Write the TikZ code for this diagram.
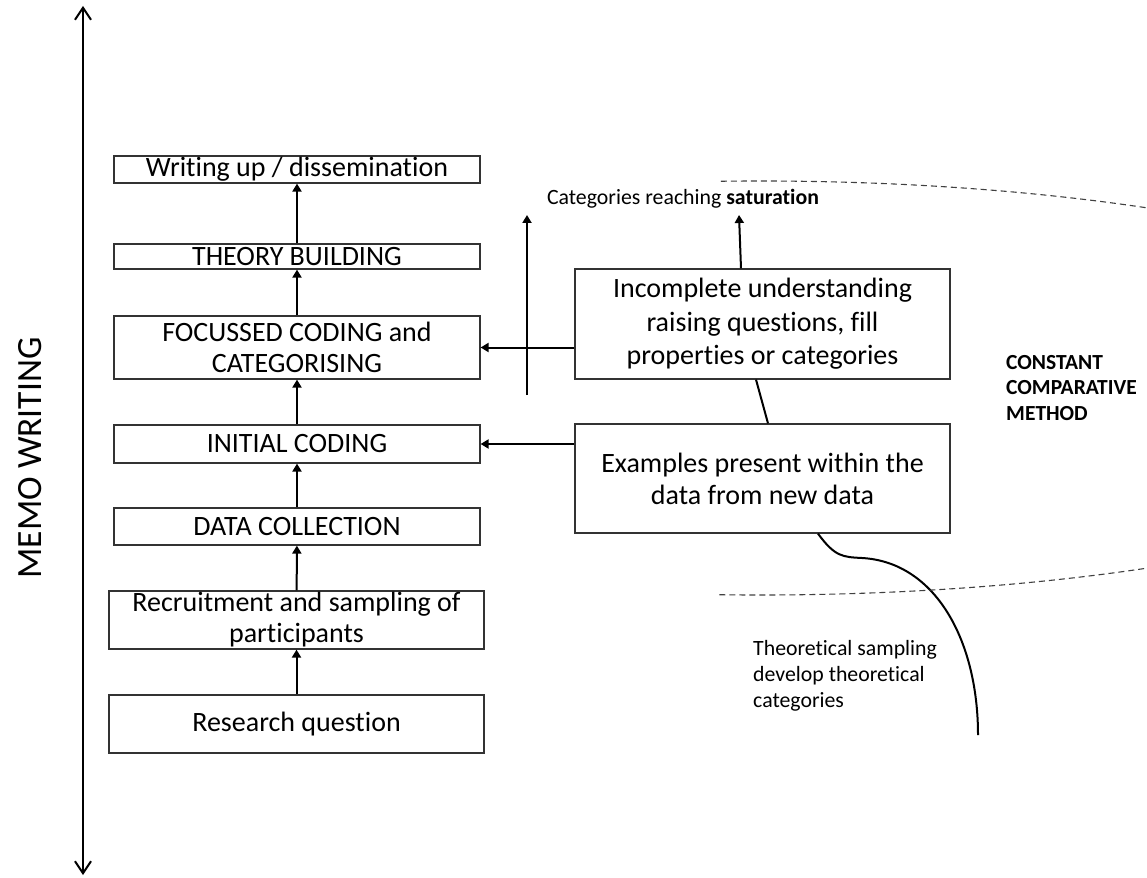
\documentclass[tikz,border=0pt]{standalone}
\usepackage{fontspec}
\setmainfont{Carlito}[Ligatures=NoCommon]
\usetikzlibrary{arrows.meta,calc}
\begin{document}
\begin{tikzpicture}[x=1pt,y=-1pt,
  stagebox/.style={draw=black!80,line width=1.2pt,inner sep=0pt,align=center,
    font=\fontsize{28}{31}\selectfont,minimum width=366pt},
  widebox/.style={stagebox,minimum width=375pt},
  arr/.style={line width=2pt,-{Triangle[length=8pt,width=9pt]}},
  link/.style={line width=2pt},
  smalltext/.style={font=\fontsize{21.8}{26}\selectfont,inner sep=0pt},
  boldtext/.style={font=\fontsize{21.5}{25.5}\selectfont\bfseries,inner sep=0pt,align=left},
  memo/.style={line width=2pt,{Straight Barb[length=12pt,width=16pt,line width=2pt]}-{Straight Barb[length=12pt,width=16pt,line width=2pt]}},
  boundary/.style={dashed,dash pattern=on 6pt off 4pt,line width=1.1pt,black!75}]
\useasboundingbox (0,0) rectangle (1147,877);

% stages of the process
\node[stagebox,minimum height=27pt] (write) at (297,169.5) {Writing up / dissemination};
\node[stagebox,minimum height=25pt] (theory) at (297,256.5) {THEORY BUILDING};
\node[stagebox,minimum height=63pt] (focus) at (297,347.5) {FOCUSSED CODING and\\CATEGORISING};
\node[stagebox,minimum height=38pt] (initial) at (297,444) {INITIAL CODING};
\node[stagebox,minimum height=37pt] (datacol) at (297,526.5) {DATA COLLECTION};
\node[widebox,minimum height=58pt] (recruit) at (296.5,620) {Recruitment and sampling of\\participants};
\node[widebox,minimum height=58pt] (rq) at (296.5,724) {Research question};

% comparison boxes
\node[widebox,minimum height=110pt,font=\fontsize{28}{33.5}\selectfont] (incomplete) at (762.5,324)
  {Incomplete understanding\\raising questions, fill\\properties or categories};
\node[widebox,minimum height=109pt,font=\fontsize{28}{32}\selectfont] (examples) at (762.5,478.5)
  {Examples present within the\\data from new data};

% labels
\node[smalltext] (sat) at (683,199) {Categories reaching \textbf{saturation}};
\node[boldtext,anchor=west] (ccm) at (1006,388) {CONSTANT\\COMPARATIVE\\METHOD};
\node[smalltext,align=left,anchor=west] (theo) at (753,676) {Theoretical sampling\\develop theoretical\\categories};
\node[rotate=90,font=\fontsize{35.5}{40}\selectfont,inner sep=0pt] (memolabel) at (30,458) {MEMO WRITING};

% memo writing axis
\coordinate (memotop) at (83,6);
\coordinate (memobot) at (83,875);
\draw[memo] (memobot) -- (memotop);

% upward flow between stages
\draw[arr] (rq) -- (recruit);
\draw[arr] (recruit) -- (datacol);
\draw[arr] (datacol) -- (initial);
\draw[arr] (initial) -- (focus);
\draw[arr] (focus) -- (theory);
\draw[arr] (theory) -- (write);

% feedback into coding
\draw[arr] (incomplete.west |- focus.east) -- (focus.east);
\draw[arr] (examples.west |- initial.east) -- (initial.east);
\coordinate (vbot) at (527,395);
\coordinate (vtop) at (527,215);
\draw[arr] (vbot) -- (vtop);
\coordinate (sattip) at (739,215);
\draw[arr] ([xshift=-21.5pt]incomplete.north) -- (sattip);
\draw[link] ([xshift=-6.5pt]incomplete.south) -- ([xshift=5.5pt]examples.north);

% theoretical sampling curve
\coordinate (curveend) at (978,735);
\draw[link] ([xshift=55.5pt]examples.south) .. controls (835,557) and (843,557) .. (862,558)
  .. controls (935,562) and (978,640) .. (curveend);

% constant comparative method boundary
\begin{scope}
  \clip (718,0) rectangle (1147,877);
  \draw[boundary] (760,388) ellipse [x radius=785pt,y radius=207pt];
\end{scope}
\end{tikzpicture}
\end{document}
